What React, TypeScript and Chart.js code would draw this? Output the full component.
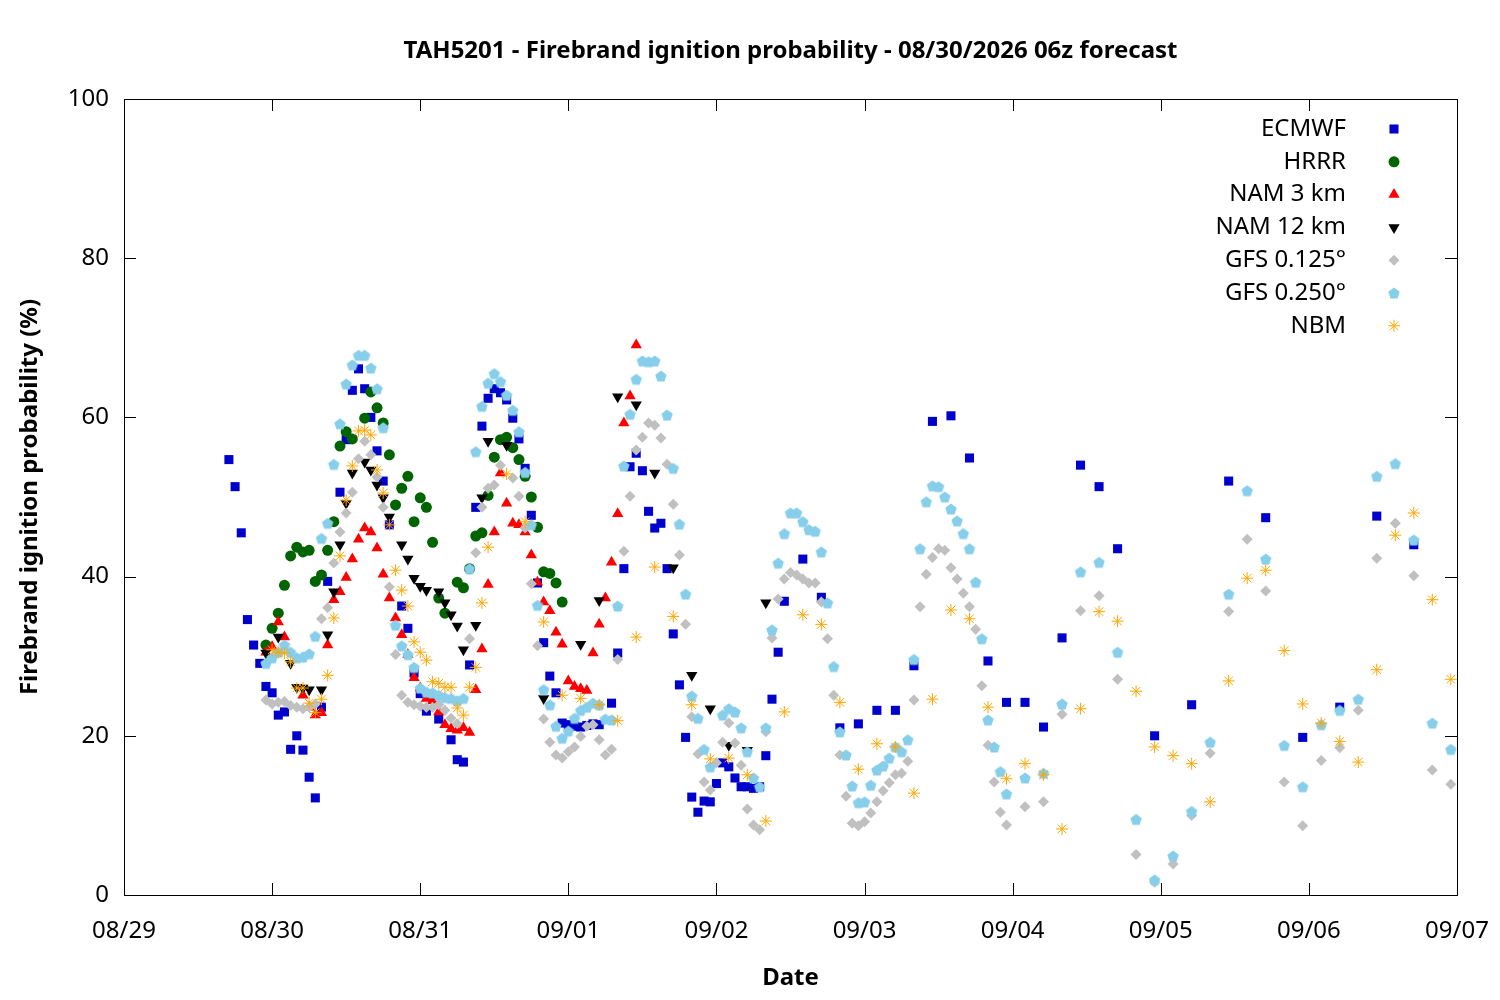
import { useEffect, useRef } from "react";
import { Chart, registerables } from "chart.js";
import { drawPoint } from "chart.js/helpers";

Chart.register(...registerables);

// x values are hours after 08/29 00z
const dateLabels = ["08/29", "08/30", "08/31", "09/01", "09/02", "09/03", "09/04", "09/05", "09/06", "09/07"];
const yTicks = [0, 20, 40, 60, 80, 100];

const ecmwfHours = [17, 18, 19, 20, 21, 22, 23, 24, 25, 26, 27, 28, 29, 30, 31, 32, 33, 35, 36, 37, 38, 39, 40, 41, 42, 43, 45, 46, 47, 48, 49, 51, 53, 54, 55, 56, 57, 58, 59, 60, 61, 62, 63, 64, 65, 66, 67, 68, 69, 70, 71, 72, 73, 74, 75, 76, 77, 79, 80, 81, 82, 83, 84, 85, 86, 87, 88, 89, 90, 91, 92, 93, 94, 95, 96, 97, 98, 99, 100, 101, 102, 103, 104, 105, 106, 107, 110, 113, 116, 119, 122, 125, 128, 131, 134, 137, 140, 143, 146, 149, 152, 155, 158, 161, 167, 173, 179, 185, 191, 197, 203, 209];
const ecmwfValues = [54.7, 51.3, 45.5, 34.6, 31.4, 29.1, 26.2, 25.4, 22.6, 23.0, 18.3, 20.0, 18.2, 14.8, 12.2, 23.6, 39.4, 50.6, 57.2, 63.4, 66.1, 63.6, 60.0, 55.8, 52.0, 46.5, 36.3, 33.5, 27.9, 25.3, 23.1, 22.1, 19.5, 17.0, 16.7, 28.9, 48.7, 58.9, 62.4, 63.6, 63.1, 62.2, 59.9, 57.3, 53.6, 47.7, 39.2, 31.7, 27.5, 25.4, 21.6, 21.4, 21.2, 21.1, 21.3, 21.5, 21.4, 24.1, 30.4, 41.0, 53.8, 55.5, 53.3, 48.2, 46.1, 46.7, 41.0, 32.8, 26.4, 19.8, 12.3, 10.4, 11.8, 11.7, 14.0, 16.6, 16.1, 14.7, 13.6, 13.6, 13.4, 13.6, 17.5, 24.6, 30.5, 36.9, 42.2, 37.4, 21.0, 21.5, 23.2, 23.2, 28.8, 59.5, 60.2, 54.9, 29.4, 24.2, 24.2, 21.1, 32.3, 54.0, 51.3, 43.5, 20.0, 23.9, 52.0, 47.4, 19.8, 23.6, 47.6, 44.0];

const hrrrHours = [23, 24, 25, 26, 27, 28, 29, 30, 31, 32, 33, 34, 35, 36, 37, 39, 40, 41, 42, 43, 44, 45, 46, 47, 48, 49, 50, 51, 52, 54, 55, 56, 57, 58, 59, 60, 61, 62, 63, 64, 65, 66, 67, 68, 69, 70, 71];
const hrrrValues = [31.4, 33.5, 35.4, 38.9, 42.6, 43.7, 43.1, 43.3, 39.4, 40.2, 43.3, 46.9, 56.4, 58.2, 57.3, 59.9, 63.2, 61.2, 59.3, 55.3, 49.0, 51.1, 52.6, 46.9, 49.9, 48.7, 44.3, 37.3, 35.4, 39.3, 38.6, 41.0, 45.1, 45.5, 50.2, 55.0, 57.2, 57.5, 56.2, 54.7, 52.6, 50.0, 46.2, 40.6, 40.4, 39.2, 36.8];

const nam3Hours = [23, 24, 25, 26, 29, 30, 31, 32, 33, 34, 35, 36, 37, 38, 39, 40, 41, 42, 43, 44, 45, 46, 47, 48, 49, 50, 51, 52, 53, 54, 55, 56, 57, 58, 59, 60, 61, 62, 63, 64, 65, 66, 67, 68, 69, 70, 71, 72, 73, 74, 75, 76, 77, 78, 79, 80, 81, 82, 83];
const nam3Values = [30.5, 31.2, 34.3, 32.4, 25.1, 23.6, 22.6, 22.9, 31.4, 37.1, 38.1, 39.9, 42.2, 44.7, 46.1, 45.6, 43.6, 40.3, 37.3, 34.8, 32.7, 30.2, 27.3, 26.0, 24.7, 24.4, 23.0, 21.4, 20.9, 20.7, 21.0, 20.4, 25.8, 30.9, 39.0, 45.6, 53.0, 49.2, 46.7, 46.5, 45.6, 42.7, 39.3, 36.8, 35.7, 33.0, 31.5, 26.9, 26.2, 25.9, 25.7, 30.4, 34.0, 37.3, 41.8, 47.9, 59.3, 62.7, 69.1];

const nam12Hours = [23, 25, 27, 28, 29, 30, 32, 33, 34, 35, 36, 37, 39, 40, 41, 42, 43, 45, 46, 47, 48, 49, 51, 52, 53, 54, 55, 57, 58, 59, 62, 68, 74, 77, 80, 83, 86, 89, 92, 95, 98, 101, 104];
const nam12Values = [30.4, 32.4, 29.1, 26.1, 26.0, 25.8, 25.8, 32.7, 38.1, 44.0, 49.2, 53.0, 54.4, 53.4, 51.5, 49.9, 47.5, 44.0, 42.2, 39.8, 38.8, 38.3, 38.1, 36.7, 35.2, 33.8, 30.8, 33.9, 49.9, 57.0, 56.5, 24.7, 31.5, 37.0, 62.6, 61.6, 53.0, 41.1, 27.6, 23.4, 18.8, 18.2, 36.7];

const gfs125Hours = [23, 24, 25, 26, 27, 28, 29, 30, 31, 32, 33, 34, 35, 36, 37, 38, 39, 40, 41, 42, 43, 44, 45, 46, 47, 48, 49, 50, 51, 52, 53, 54, 56, 57, 58, 59, 60, 61, 63, 64, 65, 66, 67, 68, 69, 70, 71, 72, 73, 74, 75, 76, 77, 78, 79, 80, 81, 82, 83, 84, 85, 86, 87, 88, 89, 90, 91, 92, 93, 94, 95, 96, 97, 98, 99, 100, 101, 102, 103, 104, 105, 106, 107, 108, 109, 110, 111, 112, 113, 114, 115, 116, 117, 118, 119, 120, 121, 122, 123, 124, 125, 126, 127, 128, 129, 130, 131, 132, 133, 134, 135, 136, 137, 138, 139, 140, 141, 142, 143, 146, 149, 152, 155, 158, 161, 164, 167, 170, 173, 176, 179, 182, 185, 188, 191, 194, 197, 200, 203, 206, 209, 212, 215];
const gfs125Values = [24.5, 24.0, 24.2, 24.3, 23.8, 23.6, 23.4, 23.6, 24.0, 34.7, 36.1, 41.7, 45.6, 48.0, 50.6, 54.8, 57.0, 55.3, 52.5, 48.7, 38.7, 30.2, 25.1, 24.2, 23.9, 23.7, 23.6, 23.6, 23.9, 23.2, 22.2, 21.5, 32.2, 43.0, 48.7, 51.1, 51.5, 54.0, 52.4, 50.1, 46.1, 39.1, 31.3, 22.1, 19.2, 17.6, 17.2, 18.0, 18.6, 19.9, 21.2, 21.4, 19.5, 17.6, 18.3, 29.6, 43.2, 50.1, 55.9, 57.5, 59.3, 59.0, 57.4, 54.1, 49.1, 42.7, 34.0, 22.4, 17.7, 14.2, 13.2, 16.6, 19.2, 21.6, 19.1, 16.3, 10.8, 8.8, 8.2, 20.5, 32.3, 37.2, 39.7, 40.5, 40.2, 39.7, 39.2, 39.2, 36.8, 32.2, 25.1, 17.6, 12.4, 9.0, 8.7, 9.2, 10.3, 11.7, 13.1, 14.1, 15.1, 15.3, 16.8, 24.5, 36.2, 40.3, 42.4, 43.5, 43.3, 41.1, 39.7, 37.9, 36.2, 33.4, 26.3, 18.8, 14.2, 10.4, 8.8, 11.1, 11.7, 22.7, 35.7, 37.6, 27.1, 5.1, 1.6, 3.9, 10.0, 17.8, 35.6, 44.7, 38.2, 14.2, 8.7, 16.9, 18.5, 23.2, 42.3, 46.7, 40.1, 15.7, 13.9];

const gfs250Hours = [23, 24, 25, 26, 27, 28, 29, 30, 31, 32, 33, 34, 35, 36, 37, 38, 39, 40, 41, 42, 44, 45, 46, 47, 48, 49, 50, 51, 52, 53, 54, 55, 56, 57, 58, 59, 60, 61, 62, 63, 64, 65, 66, 67, 68, 69, 70, 71, 72, 73, 74, 75, 76, 77, 78, 79, 80, 81, 82, 83, 84, 85, 86, 87, 88, 89, 90, 91, 92, 93, 94, 95, 97, 98, 99, 100, 101, 102, 103, 104, 105, 106, 107, 108, 109, 110, 111, 112, 113, 114, 115, 116, 117, 118, 119, 120, 121, 122, 123, 124, 125, 126, 127, 128, 129, 130, 131, 132, 133, 134, 135, 136, 137, 138, 139, 140, 141, 142, 143, 146, 149, 152, 155, 158, 161, 164, 167, 170, 173, 176, 179, 182, 185, 188, 191, 194, 197, 200, 203, 206, 209, 212, 215];
const gfs250Values = [29.1, 29.8, 30.5, 31.4, 30.5, 29.8, 29.9, 30.3, 32.5, 44.8, 46.7, 54.1, 59.2, 64.2, 66.6, 67.8, 67.8, 66.2, 63.6, 58.7, 33.9, 31.3, 30.2, 28.6, 26.0, 25.5, 25.4, 25.1, 24.8, 24.7, 24.4, 24.7, 41.0, 55.7, 61.4, 64.3, 65.5, 64.5, 62.8, 60.9, 58.2, 53.1, 46.5, 36.4, 25.8, 23.9, 21.2, 19.7, 20.6, 22.2, 23.2, 23.6, 24.1, 23.9, 22.1, 22.0, 36.3, 53.9, 60.4, 64.8, 67.1, 67.0, 67.1, 65.2, 60.3, 53.6, 46.6, 37.8, 25.0, 22.2, 18.3, 16.1, 22.6, 23.4, 23.0, 21.0, 18.0, 14.7, 13.6, 21.0, 33.3, 41.7, 45.4, 48.0, 48.0, 46.9, 45.9, 45.7, 43.1, 36.7, 28.7, 20.5, 17.6, 13.7, 11.6, 11.7, 13.8, 15.7, 16.2, 17.2, 18.6, 18.0, 19.5, 29.6, 43.5, 49.4, 51.4, 51.3, 50.0, 48.5, 47.0, 45.4, 43.5, 39.3, 32.2, 22.0, 18.6, 15.5, 12.7, 14.7, 15.3, 24.0, 40.6, 41.8, 30.5, 9.5, 1.9, 4.9, 10.5, 19.2, 37.8, 50.8, 42.2, 18.8, 13.6, 21.4, 23.2, 24.6, 52.6, 54.2, 44.6, 21.6, 18.3];

const nbmHours = [24, 25, 26, 27, 28, 29, 30, 31, 32, 33, 34, 35, 36, 37, 38, 39, 40, 41, 42, 43, 44, 45, 46, 47, 48, 49, 50, 51, 52, 53, 54, 55, 56, 57, 58, 59, 62, 65, 68, 71, 74, 77, 80, 83, 86, 89, 92, 95, 98, 101, 104, 107, 110, 113, 116, 119, 122, 125, 128, 131, 134, 137, 140, 143, 146, 149, 152, 155, 158, 161, 164, 167, 170, 173, 176, 179, 182, 185, 188, 191, 194, 197, 200, 203, 206, 209, 212, 215];
const nbmValues = [30.8, 30.5, 30.4, 29.3, 26.0, 26.0, 24.1, 22.9, 24.6, 27.6, 34.8, 42.6, 49.6, 53.9, 58.3, 58.4, 57.8, 53.4, 50.5, 46.5, 40.8, 38.3, 36.3, 31.8, 30.5, 29.5, 26.8, 26.6, 26.1, 26.1, 23.5, 22.6, 26.1, 28.6, 36.7, 43.7, 52.9, 46.9, 34.3, 25.1, 24.7, 23.9, 21.9, 32.4, 41.2, 35.0, 23.9, 17.1, 17.2, 15.1, 9.3, 23.0, 35.2, 34.0, 24.2, 15.8, 19.0, 18.6, 12.8, 24.6, 35.8, 34.7, 23.6, 14.6, 16.5, 15.1, 8.3, 23.4, 35.6, 34.4, 25.6, 18.6, 17.5, 16.5, 11.7, 26.9, 39.8, 40.8, 30.7, 24.0, 21.6, 19.3, 16.7, 28.3, 45.2, 48.0, 37.1, 27.1];

const FONT = "'Noto Sans', sans-serif";

const toPoints = (hours: number[], values: number[]) => hours.map((h, i) => ({ x: h, y: values[i] }));

function makePentagon(color: string, r: number) {
  const size = Math.ceil(r * 2 + 2);
  const c = document.createElement("canvas");
  c.width = size;
  c.height = size;
  const g = c.getContext("2d")!;
  g.fillStyle = color;
  g.beginPath();
  for (let k = 0; k < 5; k++) {
    const a = -Math.PI / 2 + (k * 2 * Math.PI) / 5;
    const px = size / 2 + r * Math.cos(a);
    const py = size / 2 + r * 0.1 + r * Math.sin(a);
    if (k === 0) g.moveTo(px, py);
    else g.lineTo(px, py);
  }
  g.closePath();
  g.fill();
  return c;
}

// box around the plot with inward ticks on all four sides (gnuplot style)
const framePlugin = {
  id: "frame",
  beforeDatasetsDraw(chart: any) {
    const { ctx, chartArea: a, scales } = chart;
    const tl = 12;
    ctx.save();
    ctx.strokeStyle = "#000";
    ctx.lineWidth = 1;
    ctx.strokeRect(a.left + 0.5, a.top + 0.5, a.right - a.left, a.bottom - a.top);
    ctx.beginPath();
    scales.x.ticks.forEach((t: any) => {
      const px = Math.round(scales.x.getPixelForValue(t.value)) + 0.5;
      ctx.moveTo(px, a.bottom);
      ctx.lineTo(px, a.bottom - tl);
      ctx.moveTo(px, a.top);
      ctx.lineTo(px, a.top + tl);
    });
    scales.y.ticks.forEach((t: any) => {
      const py = Math.round(scales.y.getPixelForValue(t.value)) + 0.5;
      ctx.moveTo(a.left, py);
      ctx.lineTo(a.left + tl, py);
      ctx.moveTo(a.right, py);
      ctx.lineTo(a.right - tl, py);
    });
    ctx.stroke();
    ctx.restore();
  },
};

const titlePlugin = {
  id: "plotTitle",
  afterDraw(chart: any) {
    const { ctx, chartArea: a } = chart;
    ctx.save();
    ctx.fillStyle = "#000";
    ctx.font = `bold 24px ${FONT}`;
    ctx.textAlign = "center";
    ctx.textBaseline = "middle";
    ctx.fillText("TAH5201 - Firebrand ignition probability - 08/30/2026 06z forecast", (a.left + a.right) / 2, 51);
    ctx.restore();
  },
};

// key at the top right: text right aligned, marker to its right
const keyPlugin = {
  id: "key",
  afterDatasetsDraw(chart: any) {
    const { ctx, chartArea: a } = chart;
    ctx.save();
    ctx.font = `24px ${FONT}`;
    ctx.textAlign = "right";
    ctx.textBaseline = "middle";
    chart.data.datasets.forEach((ds: any, i: number) => {
      const y = a.top + 30 + i * 32.8;
      ctx.fillStyle = "#000";
      ctx.fillText(ds.label, a.right - 111, y);
      ctx.fillStyle = ds.backgroundColor;
      ctx.strokeStyle = ds.borderColor;
      ctx.lineWidth = ds.borderWidth || 1;
      drawPoint(ctx, {
        pointStyle: ds.pointStyle,
        rotation: ds.rotation || 0,
        radius: ds.pointRadius,
        borderWidth: ds.borderWidth,
      } as any, a.right - 63, y);
    });
    ctx.restore();
  },
};

export default function App() {
  const canvasRef = useRef<HTMLCanvasElement>(null);

  useEffect(() => {
    document.body.style.margin = "0";
    Chart.defaults.font.family = FONT;
    Chart.defaults.color = "#000";
    const pentagon = makePentagon("#87ceeb", 6);

    const chart = new Chart(canvasRef.current!, {
      type: "scatter",
      data: {
        datasets: [
          { label: "ECMWF", data: toPoints(ecmwfHours, ecmwfValues), pointStyle: "rect", pointRadius: 6.4, backgroundColor: "#0000cc", borderColor: "#0000cc", borderWidth: 0, order: 7 },
          { label: "HRRR", data: toPoints(hrrrHours, hrrrValues), pointStyle: "circle", pointRadius: 5.5, backgroundColor: "#006400", borderColor: "#006400", borderWidth: 0, order: 6 },
          { label: "NAM 3 km", data: toPoints(nam3Hours, nam3Values), pointStyle: "triangle", pointRadius: 6.5, backgroundColor: "#ff0000", borderColor: "#ff0000", borderWidth: 0, order: 5 },
          { label: "NAM 12 km", data: toPoints(nam12Hours, nam12Values), pointStyle: "triangle", rotation: 180, pointRadius: 6.5, backgroundColor: "#000000", borderColor: "#000000", borderWidth: 0, order: 4 },
          { label: "GFS 0.125°", data: toPoints(gfs125Hours, gfs125Values), pointStyle: "rectRot", pointRadius: 5.5, backgroundColor: "#c0c0c0", borderColor: "#c0c0c0", borderWidth: 0, order: 3 },
          { label: "GFS 0.250°", data: toPoints(gfs250Hours, gfs250Values), pointStyle: pentagon, pointRadius: 6, backgroundColor: "#87ceeb", borderColor: "#87ceeb", borderWidth: 0, order: 2 },
          { label: "NBM", data: toPoints(nbmHours, nbmValues), pointStyle: "star", pointRadius: 6, backgroundColor: "#ffa500", borderColor: "#ffa500", borderWidth: 1, order: 1 },
        ] as any,
      },
      options: {
        responsive: false,
        animation: false,
        events: [],
        layout: { padding: { top: 99, right: 43, left: 0, bottom: 0 } },
        plugins: {
          legend: { display: false },
          tooltip: { enabled: false },
        },
        scales: {
          x: {
            type: "linear",
            min: 0,
            max: 216,
            afterFit: (s: any) => {
              s.height = 105;
              s.paddingLeft = 0;
              s.paddingRight = 0;
            },
            grid: { display: false, drawTicks: false },
            border: { display: false },
            ticks: {
              stepSize: 24,
              autoSkip: false,
              maxRotation: 0,
              padding: 22,
              font: { size: 24 },
              callback: (v: any) => dateLabels[Math.round(Number(v) / 24)],
            },
            title: { display: true, text: "Date", font: { size: 24, weight: "bold" }, padding: { top: 0, bottom: 7 } },
          },
          y: {
            min: yTicks[0],
            max: yTicks[yTicks.length - 1],
            afterFit: (s: any) => { s.width = 124; },
            grid: { display: false, drawTicks: false },
            border: { display: false },
            ticks: { stepSize: 20, padding: 15, font: { size: 24 } },
            title: { display: true, text: "Firebrand ignition probability (%)", font: { size: 24, weight: "bold" }, padding: { top: 16, bottom: 0 } },
          },
        },
      },
      plugins: [framePlugin, titlePlugin, keyPlugin],
    });

    return () => { chart.destroy() };
  }, []);

  return (
    <div style={{ width: 1500, height: 1000, background: "#fff" }}>
      <canvas ref={canvasRef} width={1500} height={1000} />
    </div>
  );
}
